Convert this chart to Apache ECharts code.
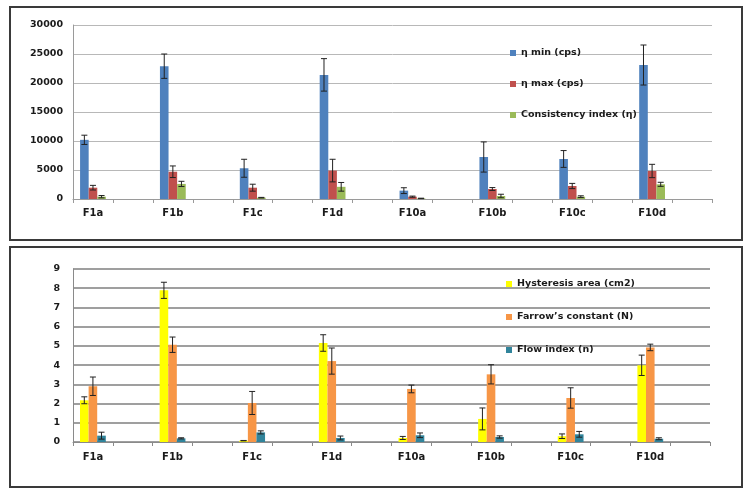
<!DOCTYPE html>
<html><head><meta charset="utf-8">
<script src="https://cdn.jsdelivr.net/npm/echarts@6/dist/echarts.min.js"></script>
<style>html,body{margin:0;padding:0;background:#fff}#c{width:750px;height:496px}</style>
</head><body><div id="c"></div>
<script>
const formulations = ['F1a','F1b','F1c','F1d','F10a','F10b','F10c','F10d'];
// top chart
const etaMin = [10200, 22900, 5300, 21400, 1440, 7240, 6900, 23100];
const etaMinErr = [800, 2100, 1550, 2800, 500, 2600, 1450, 3450];
const etaMax = [1950, 4700, 1950, 4900, 400, 1720, 2240, 4830];
const etaMaxErr = [400, 1000, 600, 1950, 100, 250, 450, 1150];
const consistency = [400, 2600, 230, 2100, 100, 520, 400, 2530];
const consistencyErr = [200, 450, 50, 750, 40, 300, 150, 350];
// bottom chart
const hysteresis = [2.17, 7.89, 0.07, 5.15, 0.21, 1.2, 0.3, 3.99];
const hysteresisErr = [0.18, 0.42, 0.01, 0.43, 0.08, 0.57, 0.12, 0.53];
const farrow = [2.9, 5.06, 2.03, 4.21, 2.76, 3.52, 2.29, 4.92];
const farrowErr = [0.48, 0.4, 0.6, 0.68, 0.2, 0.5, 0.53, 0.17];
const flowIndex = [0.33, 0.19, 0.5, 0.21, 0.35, 0.26, 0.4, 0.17];
const flowIndexErr = [0.18, 0.03, 0.08, 0.1, 0.12, 0.06, 0.15, 0.05];
const topTicks = [0, 5000, 10000, 15000, 20000, 25000, 30000];
const bottomTicks = [0, 1, 2, 3, 4, 5, 6, 7, 8, 9];

const cats = [];
formulations.forEach(f => { cats.push(f); cats.push(''); });
const spread = arr => { const o = []; arr.forEach(v => { o.push(v); o.push('-'); }); return o; };

const BW = 8.6;
const fontFam = '"DejaVu Sans", Verdana, sans-serif';
const lblStyle = {color:'#1a1a1a', fontWeight:'bold', fontSize:9.5, fontFamily:fontFam};

function errSeries(vals, errs, idx, xi, yi) {
  return {
    type:'custom', xAxisIndex:xi, yAxisIndex:yi, z:10, silent:true,
    data: vals.map((v,i)=>[i*2, v, errs[i]]),
    renderItem: function(params, api) {
      const c = api.value(0), v = api.value(1), e = api.value(2);
      const off = (idx - 1) * BW;
      const hi = api.coord([c, v + e]);
      const lo = api.coord([c, Math.max(v - e, 0)]);
      const x = hi[0] + off;
      const st = {stroke:'#222', lineWidth:1};
      return {type:'group', children:[
        {type:'line', shape:{x1:x, y1:hi[1], x2:x, y2:lo[1]}, style:st},
        {type:'line', shape:{x1:x-3, y1:hi[1], x2:x+3, y2:hi[1]}, style:st},
        {type:'line', shape:{x1:x-3, y1:lo[1], x2:x+3, y2:lo[1]}, style:st}
      ]};
    }
  };
}
function bar(name, vals, color, xi, yi) {
  return {name, type:'bar', xAxisIndex:xi, yAxisIndex:yi, data:spread(vals), barWidth:BW, barGap:'0%',
    itemStyle:{color}, emphasis:{disabled:true}};
}

const cTop = ['#4F81BD','#C0504D','#9BBB59'];
const cBot = ['#FFFF00','#F79646','#31849B'];

const option = {
  animation:false,
  graphic:[
    {type:'rect', shape:{x:10, y:7, width:732, height:233}, style:{fill:'none', stroke:'#3a3a3a', lineWidth:2}, z:-1},
    {type:'rect', shape:{x:10, y:247, width:732, height:240}, style:{fill:'none', stroke:'#3a3a3a', lineWidth:2}, z:-1}
  ],
  grid:[
    {left:73, right:38, top:25, bottom:297},
    {left:73, right:40, top:269, bottom:54}
  ],
  legend:[
    {data:['η min (cps)','η max (cps)','Consistency index (η)'], orient:'vertical', left:505, top:42,
     itemWidth:6, itemHeight:6, itemGap:19, icon:'rect', textStyle:Object.assign({lineHeight:12}, lblStyle)},
    {data:['Hysteresis area (cm2)','Farrow’s constant (N)','Flow index (n)'], orient:'vertical', left:501, top:273,
     itemWidth:6, itemHeight:6, itemGap:21, icon:'rect', textStyle:Object.assign({lineHeight:12}, lblStyle)}
  ],
  xAxis:[
    {type:'category', gridIndex:0, data:cats, axisLine:{lineStyle:{color:'#9a9a9a'}},
     axisTick:{show:true, length:4, lineStyle:{color:'#9a9a9a'}, interval:0},
     axisLabel:Object.assign({interval:0, margin:9}, lblStyle, {fontSize:10})},
    {type:'category', gridIndex:1, data:cats, axisLine:{lineStyle:{color:'#8a8a8a'}},
     axisTick:{show:true, length:4, lineStyle:{color:'#8a8a8a'}, interval:0},
     axisLabel:Object.assign({interval:0, margin:10}, lblStyle, {fontSize:10})}
  ],
  yAxis:[
    {type:'value', gridIndex:0, min:topTicks[0], max:topTicks[topTicks.length-1], interval:5000,
     axisLine:{show:true, lineStyle:{color:'#9a9a9a'}}, axisTick:{show:false},
     splitLine:{lineStyle:{color:'#b8b8b8', width:1}},
     axisLabel:Object.assign({margin:10, formatter: v => String(v)}, lblStyle)},
    {type:'value', gridIndex:1, min:bottomTicks[0], max:bottomTicks[bottomTicks.length-1], interval:1,
     axisLine:{show:true, lineStyle:{color:'#8a8a8a'}}, axisTick:{show:false},
     splitLine:{lineStyle:{color:'#7f7f7f', width:1.5}},
     axisLabel:Object.assign({margin:13, formatter: v => String(v)}, lblStyle)}
  ],
  series:[
    bar('η min (cps)', etaMin, cTop[0], 0, 0),
    bar('η max (cps)', etaMax, cTop[1], 0, 0),
    bar('Consistency index (η)', consistency, cTop[2], 0, 0),
    errSeries(etaMin, etaMinErr, 0, 0, 0),
    errSeries(etaMax, etaMaxErr, 1, 0, 0),
    errSeries(consistency, consistencyErr, 2, 0, 0),
    bar('Hysteresis area (cm2)', hysteresis, cBot[0], 1, 1),
    bar('Farrow’s constant (N)', farrow, cBot[1], 1, 1),
    bar('Flow index (n)', flowIndex, cBot[2], 1, 1),
    errSeries(hysteresis, hysteresisErr, 0, 1, 1),
    errSeries(farrow, farrowErr, 1, 1, 1),
    errSeries(flowIndex, flowIndexErr, 2, 1, 1)
  ]
};
echarts.init(document.getElementById('c'), null, {renderer:'canvas'}).setOption(option);
</script>
</body></html>
